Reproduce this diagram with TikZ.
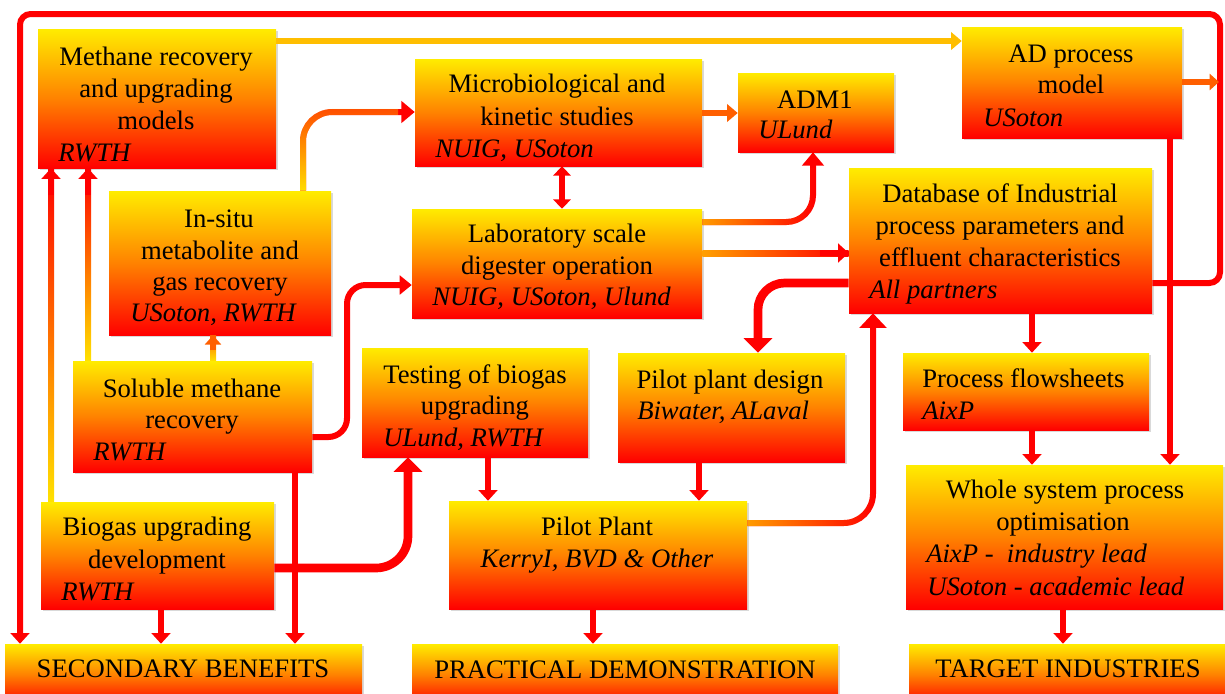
\documentclass[tikz,border=0pt]{standalone}
\usepackage{fontspec}
\setmainfont{Liberation Serif}
\usetikzlibrary{arrows.meta,shadows,fit,fadings}
\definecolor{gy}{RGB}{255,236,0}
\definecolor{gm}{RGB}{255,130,0}
\definecolor{gr}{RGB}{255,0,0}
\definecolor{lineY}{RGB}{255,190,0}
\definecolor{lineO}{RGB}{255,95,0}
\definecolor{ovY}{RGB}{255,225,0}
\definecolor{ovO}{RGB}{255,160,0}
\tikzfading[name=fadeuppart, top color=transparent!65, bottom color=transparent!0]
\tikzfading[name=faderight, left color=transparent!0, right color=transparent!100]
\begin{document}
\begin{tikzpicture}[x=0.75pt,y=-0.75pt,
  box/.style={inner sep=0pt, draw=none, top color=gy, bottom color=gr, middle color=gm,
    drop shadow={opacity=0.3, shadow xshift=1.8pt, shadow yshift=-1.8pt}},
  txt/.style={inner sep=0pt, font=\fontsize{20}{24}\selectfont, anchor=base},
  aff/.style={inner sep=0pt, font=\fontsize{20}{24}\selectfont\itshape, anchor=base west},
  rl/.style={draw=red, line width=4.5pt, -{Triangle[width=14pt,length=8pt]}},
  thk/.style={draw=red, line width=6.5pt, -{Triangle[width=21pt,length=11pt]}},
  ov/.style={line width=4.5pt}
]
\useasboundingbox (0,0) rectangle (1225,693);
\clip (0,0) rectangle (1225,693);

% ---------- boxes ----------
\node[box, fit={(38,29) (276,168)}] (meth) {};
\node[box, fit={(415,59) (702,166)}] (micro) {};
\node[box, fit={(738,73) (894,152)}] (adm) {};
\node[box, fit={(962,27) (1182,138)}] (adp) {};
\node[box, fit={(849,168) (1152,313)}] (db) {};
\node[box, fit={(412,209) (702,318)}] (lab) {};
\node[box, fit={(109,191) (331,335)}] (insitu) {};
\node[box, fit={(73,361) (312,472)}] (sol) {};
\node[box, fit={(41,502) (274,609)}] (bio) {};
\node[box, fit={(5,644) (362,705)}] (sec) {};
\node[box, fit={(362,348) (588,457)}] (test) {};
\node[box, fit={(618,353) (845,462)}] (design) {};
\node[box, fit={(449,501) (747,609)}] (pilot) {};
\node[box, fit={(412,644) (838,705)}] (prac) {};
\node[box, fit={(903,353) (1149,430)}] (flow) {};
\node[box, fit={(906,465) (1223,609)}] (whole) {};
\node[box, fit={(909,644) (1235,705)}] (target) {};

% ---------- texts ----------
\node[txt] (meth1) at (156,65) {Methane recovery};
\node[txt] (meth2) at (156,97) {and upgrading};
\node[txt] (meth3) at (156,129) {models};
\node[aff] (meth4) at (58,161) {RWTH};

\node[txt] (micro1) at (557,92) {Microbiological and};
\node[txt] (micro2) at (557,125) {kinetic studies};
\node[aff] (micro3) at (435,157) {NUIG, USoton};

\node[txt] (adm1) at (815,108) {ADM1};
\node[aff] (adm2) at (758,138) {ULund};

\node[txt] (adp1) at (1071,62) {AD process};
\node[txt] (adp2) at (1071,93) {model};
\node[aff] (adp3) at (983,126) {USoton};

\node[txt] (db1) at (1000,202) {Database of Industrial};
\node[txt] (db2) at (1000,234) {process parameters and};
\node[txt] (db3) at (1000,266) {effluent characteristics};
\node[aff] (db4) at (869,298) {All partners};

\node[txt] (lab1) at (557,242) {Laboratory scale};
\node[txt] (lab2) at (557,274) {digester operation};
\node[aff] (lab3) at (432,305) {NUIG, USoton, Ulund};

\node[txt] (ins1) at (219,227) {In-situ};
\node[txt] (ins2) at (220,259) {metabolite and};
\node[txt] (ins3) at (220,290) {gas recovery};
\node[aff] (ins4) at (130,321) {USoton, RWTH};

\node[txt] (sol1) at (192,397) {Soluble methane};
\node[txt] (sol2) at (192,428) {recovery};
\node[aff] (sol3) at (93,460) {RWTH};

\node[txt] (bio1) at (157,535) {Biogas upgrading};
\node[txt] (bio2) at (157,568) {development};
\node[aff] (bio3) at (61,600) {RWTH};

\node[txt] (sec1) at (183,677) {SECONDARY BENEFITS};

\node[txt] (test1) at (475,383) {Testing of biogas};
\node[txt] (test2) at (475,414) {upgrading};
\node[aff] (test3) at (383,446) {ULund, RWTH};

\node[txt] (des1) at (730,388) {Pilot plant design};
\node[aff] (des2) at (637,419) {Biwater, ALaval};

\node[txt] (pil1) at (597,535) {Pilot Plant};
\node[txt, font=\fontsize{20}{24}\selectfont\itshape] (pil2) at (597,567) {KerryI, BVD \& Other};

\node[txt] (prac1) at (625,678) {PRACTICAL DEMONSTRATION};

\node[txt, anchor=base west] (flow1) at (922,387) {Process flowsheets};
\node[aff] (flow2) at (922,419) {AixP};

\node[txt] (who1) at (1065,498) {Whole system process};
\node[txt] (who2) at (1063,530) {optimisation};
\node[aff] (who3) at (926,562) {AixP -\ \ industry lead};
\node[aff] (who4) at (927,595) {USoton - academic lead};

\node[txt] (tar1) at (1068,677) {TARGET INDUSTRIES};

% ---------- connectors ----------
% methane models -> AD process model
\draw[line width=4.5pt, draw=lineY, -{Triangle[width=13pt,length=8pt]}] (meth.east |- 0,41) -- (adp.west |- 0,41);
% big outer loop
\draw[rl, rounded corners=8pt] (db.east |- 0,283) -- (1220,283) -- (1220,14) -- (20,14) -- (sec.north -| 20,0);
% AD process model -> loop
\coordinate (loopR) at (1219,82);
\draw[line width=4.5pt, draw=lineO, -{Triangle[width=12pt,length=7pt]}] (adp.east |- 0,82) -- (loopR);
% AD process model -> whole system
\draw[rl] (adp.south -| 1170,0) -- (whole.north -| 1170,0);
% micro -> ADM1
\draw[line width=4.5pt, draw=lineO, -{Triangle[width=13pt,length=8pt]}] (micro.east |- 0,113) -- (adm.west |- 0,113);
% micro <-> lab
\draw[rl, {Triangle[width=13pt,length=7pt]}-{Triangle[width=13pt,length=7pt]}] (micro.south -| 562,0) -- (lab.north -| 562,0);
% lab -> ADM1
\draw[rl, -{Triangle[width=16pt,length=10pt]}, rounded corners=20pt] (lab.east |- 0,222) -- (813,222) -- (adm.south -| 813,0);
\draw[ov, draw=ovO, path fading=faderight, rounded corners=20pt] (lab.east |- 0,222) -- (813,222) -- (813,168);
% lab -> database
\shade[left color=ovO, right color=red] (lab.east |- 0,250) rectangle (db.west |- 0,256);
\draw[rl] (820,253) -- (db.west |- 0,253);
% database -> pilot plant design
\draw[thk, rounded corners=20pt] (db.west |- 0,283) -- (758,283) -- (design.north -| 758,0);
% in-situ -> micro
\draw[rl, -{Triangle[width=16pt,length=10pt]}, rounded corners=22pt] (insitu.north -| 303,0) -- (303,112) -- (micro.west |- 0,112);
\draw[ov, draw=ovY, path fading=fadeuppart, rounded corners=22pt] (insitu.north -| 303,0) -- (303,112) -- (398,112);
% soluble -> lab
\draw[rl, -{Triangle[width=14pt,length=9pt]}, rounded corners=14pt] (sol.east |- 0,437) -- (347,437) -- (347,285) -- (lab.west |- 0,285);
% soluble -> in-situ
\shade[top color=lineO, bottom color=ovY] (insitu.south -| 210,0) rectangle (sol.north -| 216,0);
\draw[line width=4.5pt, draw=lineO, -{Triangle[width=12pt,length=7pt]}] (213,350) -- (insitu.south -| 213,0);
% soluble -> methane models
\shade[top color=red, bottom color=ovY] (meth.south -| 85,0) rectangle (sol.north -| 91,0);
\draw[rl] (88,195) -- (meth.south -| 88,0);
% biogas -> methane models
\shade[top color=red, bottom color=ovY] (meth.south -| 48,0) rectangle (bio.north -| 54,0);
\draw[rl] (51,195) -- (meth.south -| 51,0);
% biogas -> testing
\draw[thk, rounded corners=24pt] (bio.east |- 0,568) -- (408,568) -- (test.south -| 408,0);
% biogas -> secondary
\draw[rl] (bio.south -| 161,0) -- (sec.north -| 161,0);
% soluble -> secondary
\draw[rl] (sol.south -| 295,0) -- (sec.north -| 295,0);
% testing -> pilot
\draw[rl] (test.south -| 488,0) -- (pilot.north -| 488,0);
% design -> pilot
\draw[rl] (design.south -| 699,0) -- (pilot.north -| 699,0);
% pilot -> database
\draw[rl, -{Triangle[width=20pt,length=11pt]}, rounded corners=22pt] (pilot.east |- 0,523) -- (873,523) -- (db.south -| 873,0);
\draw[ov, draw=ovO, path fading=faderight, rounded corners=22pt] (pilot.east |- 0,523) -- (873,523) -- (873,330);
% pilot -> practical
\draw[rl] (pilot.south -| 593,0) -- (prac.north -| 593,0);
% database -> flowsheets
\draw[rl] (db.south -| 1032,0) -- (flow.north -| 1032,0);
% flowsheets -> whole
\draw[rl] (flow.south -| 1032,0) -- (whole.north -| 1032,0);
% whole -> target
\draw[rl] (whole.south -| 1063,0) -- (target.north -| 1063,0);
\end{tikzpicture}
\end{document}
